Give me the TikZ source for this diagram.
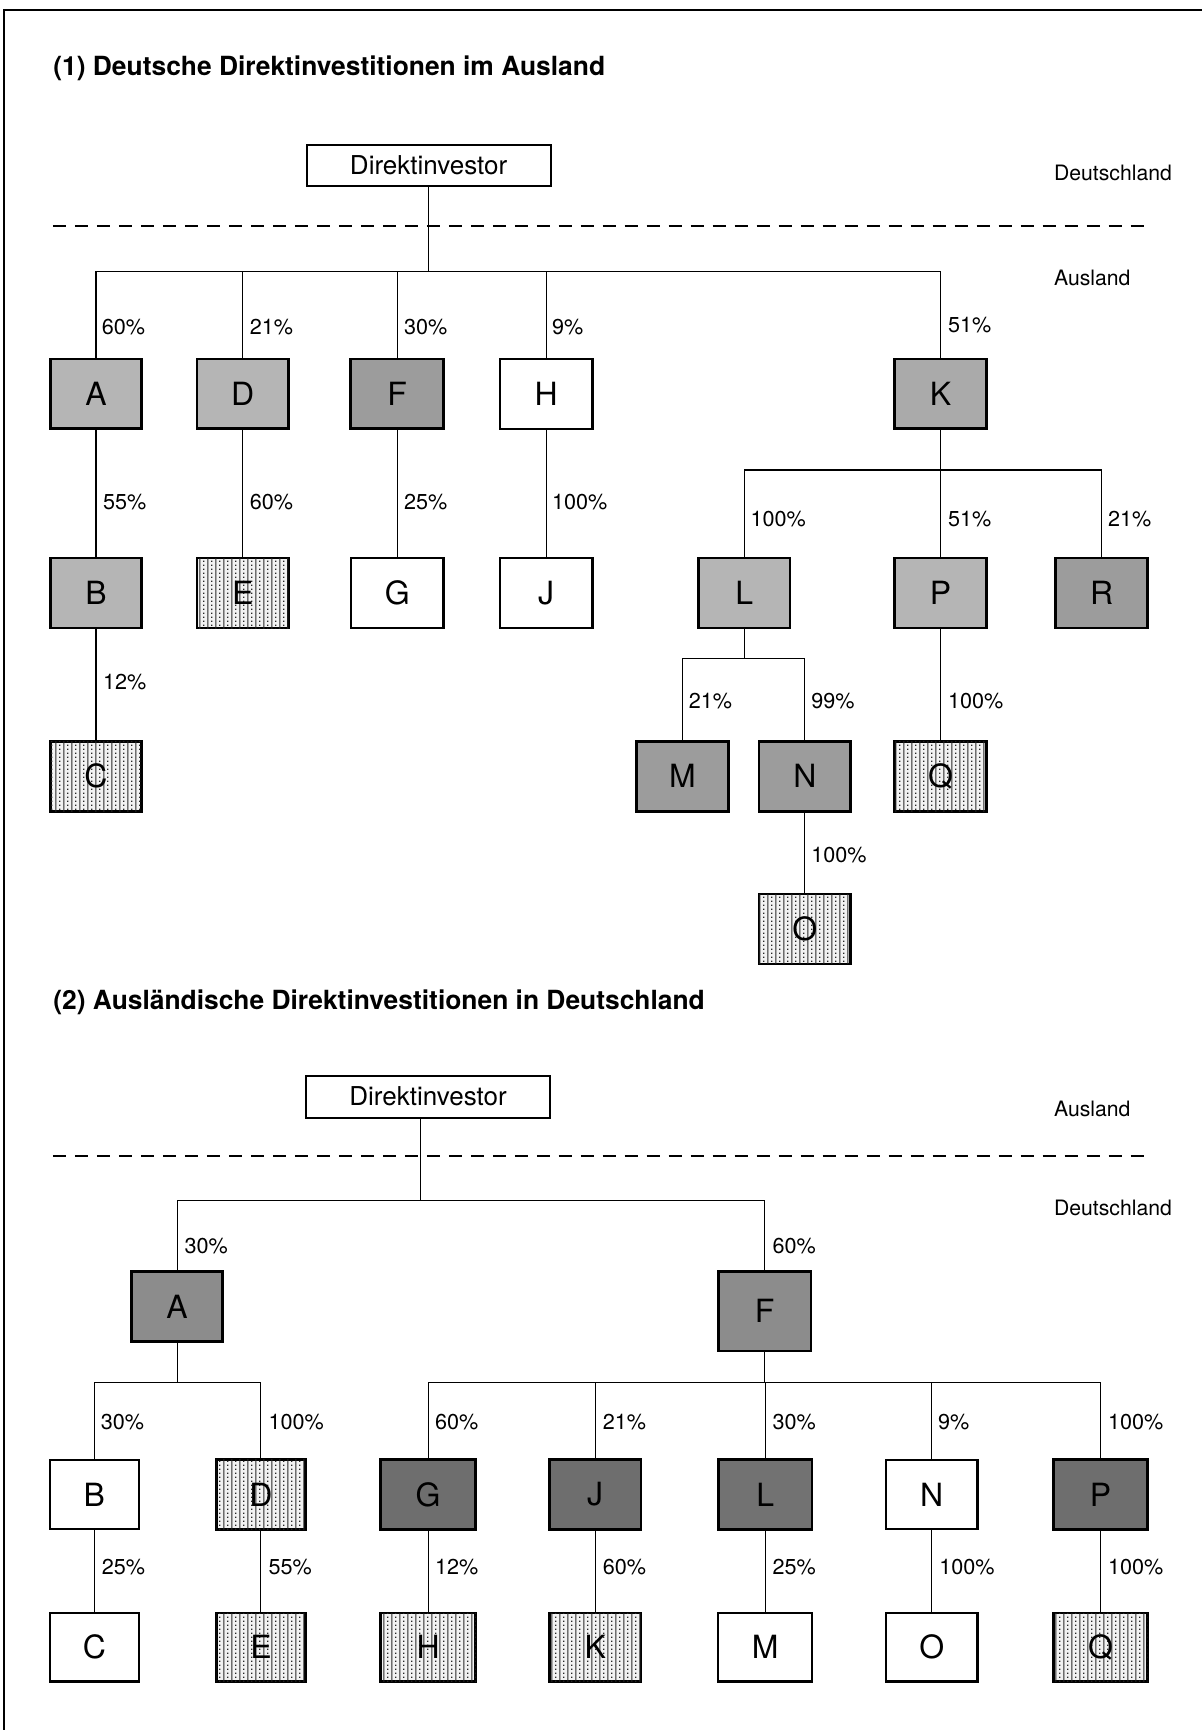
\documentclass[tikz,border=0pt]{standalone}
\usepackage{fontspec}
\setmainfont{TeX Gyre Heros}
\usetikzlibrary{patterns,calc}
\definecolor{gA}{HTML}{B5B5B5}
\definecolor{gK}{HTML}{AAAAAA}
\definecolor{gB}{HTML}{9C9C9C}
\definecolor{gC}{HTML}{8C8C8C}
\definecolor{gD}{HTML}{6E6E6E}
\definecolor{gS}{HTML}{F2F2F2}
\pgfdeclarepatternformonly{stripedots}{\pgfqpoint{0pt}{0pt}}{\pgfqpoint{4pt}{2pt}}{\pgfqpoint{4pt}{2pt}}{%
  \pgfpathrectangle{\pgfqpoint{0.2pt}{0pt}}{\pgfqpoint{0.55pt}{2pt}}%
  \pgfpathrectangle{\pgfqpoint{2.1pt}{0.6pt}}{\pgfqpoint{0.65pt}{0.65pt}}%
  \pgfusepath{fill}}
\tikzset{
  unitbox/.style={draw, line width=1.4pt, inner sep=0pt, minimum width=45.8pt, minimum height=35pt,
    font=\fontsize{16}{16}\selectfont},
  wbox/.style={unitbox, fill=white, line width=1.1pt},
  lightbox/.style={unitbox, fill=gA},
  kbox/.style={unitbox, fill=gK},
  midbox/.style={unitbox, fill=gB},
  darkbox/.style={unitbox, fill=gC},
  darkerbox/.style={unitbox, fill=gD},
  stripebox/.style={unitbox, fill=gS, postaction={pattern=stripedots, pattern color=black!85}},
  invbox/.style={draw, line width=1pt, fill=white, inner sep=0pt, minimum width=122pt, minimum height=21pt,
    font=\fontsize{13}{13}\selectfont},
  conn/.style={line width=0.55pt},
  pct/.style={anchor=west, inner sep=0pt, font=\fontsize{10.8}{10.8}\selectfont},
  side/.style={anchor=west, inner sep=0pt, font=\fontsize{10.6}{10.6}\selectfont},
  ttl/.style={anchor=west, inner sep=0pt, font=\bfseries\fontsize{13.2}{13.2}\selectfont},
  border/.style={line width=1pt},
  divider/.style={line width=1pt, dash pattern=on 6.5pt off 4.5pt}
}
\begin{document}
\begin{tikzpicture}[x=0.5519pt, y=-0.5519pt]
\useasboundingbox (0,0) rectangle (1089,1568);
\draw[border] (4,1568) -- (4,9) -- (1089,9);

% ---------------- Part 1 ----------------
\node[ttl] (t1) at (48,62) {(1) Deutsche Direktinvestitionen im Ausland};
\node[invbox] (inv1) at (388.5,150) {Direktinvestor};
\node[side] (de1) at (955,157) {Deutschland};
\node[side] (au1) at (955,252) {Ausland};
\draw[divider] (48,205) -- (1037,205);

\node[lightbox] (A1) at (87,357) {A};
\node[lightbox] (D1) at (220,357) {D};
\node[midbox, minimum width=46.4pt] (F1) at (360,357) {F};
\node[wbox, minimum width=46.4pt] (H1) at (495,357) {H};
\node[kbox] (K1) at (852.5,357) {K};

\node[lightbox] (B1) at (87,537.5) {B};
\node[stripebox] (E1) at (220,537.5) {E};
\node[wbox, minimum width=46.4pt] (G1) at (360,537.5) {G};
\node[wbox, minimum width=46.4pt] (J1) at (495,537.5) {J};
\node[lightbox] (L1) at (674.5,537.5) {L};
\node[lightbox] (P1) at (852.5,537.5) {P};
\node[midbox] (R1) at (998.5,537.5) {R};

\node[stripebox] (C1) at (87,703.5) {C};
\node[midbox] (M1) at (618.5,703.5) {M};
\node[midbox] (N1) at (729.5,703.5) {N};
\node[stripebox] (Q1) at (852.5,703.5) {Q};
\node[stripebox] (O1) at (729.5,842) {O};

% connectors part 1
\draw[conn] (inv1.south) -- ++(0,76) coordinate (b1);
\draw[conn] (b1 -| A1.north) -- (b1 -| K1.north);
\foreach \n in {A1,D1,F1,H1,K1} \draw[conn] (b1 -| \n.north) -- (\n.north);
\draw[conn] (A1.south) -- (B1.north);
\draw[conn] (B1.south) -- (C1.north);
\draw[conn] (D1.south) -- (E1.north);
\draw[conn] (F1.south) -- (G1.north);
\draw[conn] (H1.south) -- (J1.north);
\draw[conn] (K1.south) -- ++(0,36) coordinate (bk);
\draw[conn] (bk -| L1.north) -- (bk -| R1.north);
\foreach \n in {L1,P1,R1} \draw[conn] (bk -| \n.north) -- (\n.north);
\draw[conn] (L1.south) -- ++(0,26) coordinate (bl);
\draw[conn] (bl -| M1.north) -- (bl -| N1.north);
\foreach \n in {M1,N1} \draw[conn] (bl -| \n.north) -- (\n.north);
\draw[conn] (P1.south) -- (Q1.north);
\draw[conn] (N1.south) -- (O1.north);

% labels part 1
\node[pct] at (92,296) {60\%};
\node[pct] at (226,296) {21\%};
\node[pct] at (366,296) {30\%};
\node[pct] at (500,296) {9\%};
\node[pct] at (859,295) {51\%};
\node[pct] at (93,455) {55\%};
\node[pct] at (226,455) {60\%};
\node[pct] at (366,455) {25\%};
\node[pct] at (500,455) {100\%};
\node[pct] at (93,618) {12\%};
\node[pct] at (680,470) {100\%};
\node[pct] at (859,470) {51\%};
\node[pct] at (1004,470) {21\%};
\node[pct] at (624,635) {21\%};
\node[pct] at (735,635) {99\%};
\node[pct] at (859,635) {100\%};
\node[pct] at (735,775) {100\%};

% ---------------- Part 2 ----------------
\node[ttl] (t2) at (48,908) {(2) Ausländische Direktinvestitionen in Deutschland};
\node[invbox] (inv2) at (388,994) {Direktinvestor};
\node[side] (au2) at (955,1005) {Ausland};
\node[side] (de2) at (955,1095) {Deutschland};
\draw[divider] (48,1048) -- (1037,1048);

\node[darkbox, minimum height=34.8pt] (A2) at (160.5,1184) {A};
\node[darkbox, minimum width=46.4pt, minimum height=39.7pt] (F2) at (693,1188.5) {F};

\node[wbox, minimum width=44.7pt, minimum height=34.8pt] (B2) at (85.5,1354.5) {B};
\node[stripebox, minimum width=44.7pt, minimum height=34.8pt] (D2) at (236.5,1354.5) {D};
\node[darkerbox, minimum width=47.5pt, minimum height=34.8pt] (G2) at (388,1354.5) {G};
\node[darkerbox, minimum height=34.8pt] (J2) at (539.5,1354.5) {J};
\node[darkerbox, minimum width=46.9pt, minimum height=34.8pt, fill=gD!85!gC] (L2) at (693.5,1354.5) {L};
\node[wbox, minimum height=34.8pt] (N2) at (844.5,1354.5) {N};
\node[darkerbox, minimum width=46.9pt, minimum height=34.8pt] (P2) at (997.5,1354.5) {P};

\node[wbox, minimum width=44.7pt, minimum height=34.2pt] (C2) at (85.5,1493) {C};
\node[stripebox, minimum width=44.7pt, minimum height=34.2pt] (E2) at (236.5,1493) {E};
\node[stripebox, minimum width=47.5pt, minimum height=34.2pt] (H2) at (388,1493) {H};
\node[stripebox, minimum height=34.2pt] (K2) at (539.5,1493) {K};
\node[wbox, minimum width=46.9pt, minimum height=34.2pt] (M2) at (693.5,1493) {M};
\node[wbox, minimum height=34.2pt] (O2) at (844.5,1493) {O};
\node[stripebox, minimum width=46.9pt, minimum height=34.2pt] (Q2) at (997.5,1493) {Q};

% connectors part 2
\coordinate (s2) at ($(inv2.south)+(-7,0)$);
\draw[conn] (s2) -- ++(0,74) coordinate (b2);
\draw[conn] (b2 -| A2.north) -- (b2 -| F2.north);
\foreach \n in {A2,F2} \draw[conn] (b2 -| \n.north) -- (\n.north);
\draw[conn] (A2.south) -- ++(0,36) coordinate (ba);
\draw[conn] (ba -| B2.north) -- (ba -| D2.north);
\foreach \n in {B2,D2} \draw[conn] (ba -| \n.north) -- (\n.north);
\draw[conn] (F2.south) -- ++(0,27) coordinate (bf);
\draw[conn] (bf -| G2.north) -- (bf -| P2.north);
\foreach \n in {G2,J2,L2,N2,P2} \draw[conn] (bf -| \n.north) -- (\n.north);
\draw[conn] (B2.south) -- (C2.north);
\draw[conn] (D2.south) -- (E2.north);
\draw[conn] (G2.south) -- (H2.north);
\draw[conn] (J2.south) -- (K2.north);
\draw[conn] (L2.south) -- (M2.north);
\draw[conn] (N2.south) -- (O2.north);
\draw[conn] (P2.south) -- (Q2.north);

% labels part 2
\node[pct] at (167,1129) {30\%};
\node[pct] at (700,1129) {60\%};
\node[pct] at (91,1289) {30\%};
\node[pct] at (243,1289) {100\%};
\node[pct] at (394,1289) {60\%};
\node[pct] at (546,1289) {21\%};
\node[pct] at (700,1289) {30\%};
\node[pct] at (850,1289) {9\%};
\node[pct] at (1004,1289) {100\%};
\node[pct] at (92,1420) {25\%};
\node[pct] at (243,1420) {55\%};
\node[pct] at (394,1420) {12\%};
\node[pct] at (546,1420) {60\%};
\node[pct] at (700,1420) {25\%};
\node[pct] at (851,1420) {100\%};
\node[pct] at (1004,1420) {100\%};
\end{tikzpicture}
\end{document}
